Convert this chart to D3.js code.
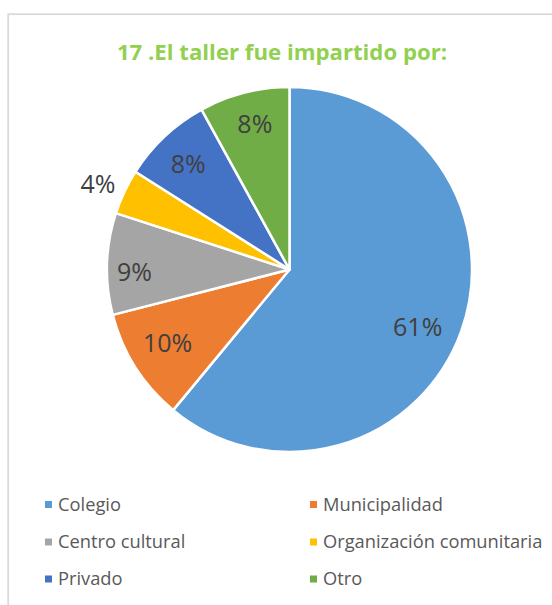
<!DOCTYPE html>
<html>
<head>
<meta charset="utf-8">
<script src="https://cdn.jsdelivr.net/npm/d3@7"></script>
<style>
  body { margin: 0; background: #fff; }
  svg { display: block; }
</style>
</head>
<body>
<div id="chart"></div>
<script>
const categories = ['Colegio', 'Municipalidad', 'Centro cultural', 'Organización comunitaria', 'Privado', 'Otro'];
const values = [61, 10, 9, 4, 8, 8];
const colors = ['#5B9BD5', '#ED7D31', '#A5A5A5', '#FFC000', '#4472C4', '#70AD47'];
const title = '17 .El taller fue impartido por:';

const width = 552, height = 605;
const cx = 289.5, cy = 269.5, r = 182.5;
const font = '"Open Sans", "Noto Sans", sans-serif';

const svg = d3.select('#chart').append('svg')
  .attr('width', width)
  .attr('height', height);

// chart frame
svg.append('rect')
  .attr('x', 8.2).attr('y', 14.2)
  .attr('width', 600).attr('height', 650)
  .attr('fill', '#fff')
  .attr('stroke', '#d9d9d9')
  .attr('stroke-width', 1.8);

svg.append('text')
  .attr('x', 282).attr('y', 59.5)
  .attr('text-anchor', 'middle')
  .attr('font-family', font)
  .attr('font-weight', 'bold')
  .attr('font-size', 22.2)
  .attr('fill', '#92D050')
  .text(title);

const data = categories.map((c, i) => ({ name: c, value: values[i], color: colors[i] }));

const pie = d3.pie().sort(null).value(d => d.value);
const arcs = pie(data);
const arc = d3.arc().innerRadius(0).outerRadius(r);

const g = svg.append('g').attr('transform', `translate(${cx},${cy})`);

g.selectAll('path')
  .data(arcs)
  .enter()
  .append('path')
  .attr('d', arc)
  .attr('fill', d => d.data.color)
  .attr('stroke', '#fff')
  .attr('stroke-width', 2.5)
  .attr('stroke-linejoin', 'round');

// label radius (fraction of r) and small angle shift (deg) per slice
const labelR = [0.77, 0.78, 0.85, 1.15, 0.8, 0.82];
const labelShift = [4.4, 1.3, -2.7, -1.1, -0.7, 1.0];
g.selectAll('text.lbl')
  .data(arcs)
  .enter()
  .append('text')
  .attr('class', 'lbl')
  .attr('transform', (d, i) => {
    const a = (d.startAngle + d.endAngle) / 2 + labelShift[i] * Math.PI / 180;
    const rr = r * labelR[i];
    return `translate(${Math.sin(a) * rr},${-Math.cos(a) * rr})`;
  })
  .attr('text-anchor', 'middle')
  .attr('dy', '0.36em')
  .attr('font-family', font)
  .attr('font-size', 25)
  .attr('fill', '#404040')
  .text(d => d.data.value + '%');

// legend
const legX = [45, 310];
const legY = [504.5, 542, 579];
const leg = svg.selectAll('g.leg')
  .data(data)
  .enter()
  .append('g')
  .attr('class', 'leg')
  .attr('transform', (d, i) => `translate(${legX[i % 2]},${legY[Math.floor(i / 2)]})`);

leg.append('rect')
  .attr('x', 0).attr('y', -3.5)
  .attr('width', 7).attr('height', 7)
  .attr('fill', d => d.color);

leg.append('text')
  .attr('x', 13)
  .attr('dy', '0.35em')
  .attr('font-family', font)
  .attr('font-size', 18.3)
  .attr('fill', '#595959')
  .text(d => d.name);
</script>
</body>
</html>
